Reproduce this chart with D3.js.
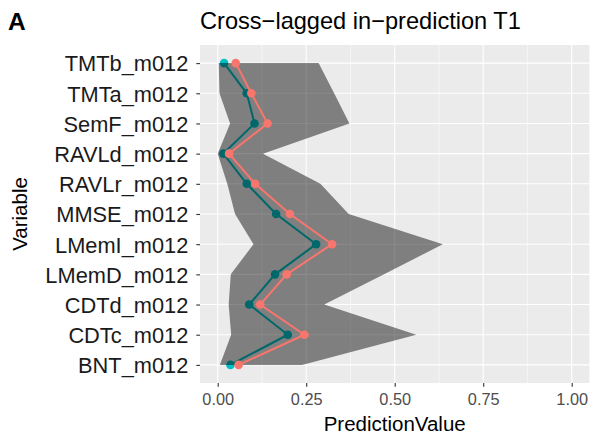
<!DOCTYPE html>
<html>
<head>
<meta charset="utf-8">
<script src="https://cdn.jsdelivr.net/npm/d3@7"></script>
<style>
  body { margin: 0; background: #fff; }
  svg { display: block; font-family: "Liberation Sans", Arial, sans-serif; }
</style>
</head>
<body>
<svg id="chart" width="590" height="435"></svg>
<script>
// values
const variables = ["TMTb_m012", "TMTa_m012", "SemF_m012", "RAVLd_m012", "RAVLr_m012",
  "MMSE_m012", "LMemI_m012", "LMemD_m012", "CDTd_m012", "CDTc_m012", "BNT_m012"];
const tealValues = [0.018, 0.082, 0.104, 0.016, 0.082, 0.165, 0.278, 0.162, 0.089, 0.198, 0.036];
const salmonValues = [0.051, 0.095, 0.141, 0.032, 0.106, 0.204, 0.323, 0.195, 0.120, 0.245, 0.059];
const bandLow = [0.003, 0.005, 0.035, 0.000, 0.027, 0.049, 0.101, 0.037, 0.031, 0.038, 0.006];
const bandHigh = [0.285, 0.329, 0.372, 0.128, 0.290, 0.370, 0.636, 0.470, 0.301, 0.561, 0.238];
const xTicks = [0, 0.25, 0.5, 0.75, 1];
const xMinor = [0.125, 0.375, 0.625, 0.875];

const panel = {left: 200, right: 589.4, top: 45, bottom: 383};
const svg = d3.select("#chart");

const x = d3.scaleLinear().domain([-0.05, 1.05]).range([panel.left, panel.right]);
const y = d3.scalePoint().domain(variables).range([panel.top, panel.bottom]).padding(0.6);

const rows = variables.map((v, i) => ({
  name: v, teal: tealValues[i], salmon: salmonValues[i], lo: bandLow[i], hi: bandHigh[i]
}));

// panel background + grid
svg.append("rect")
  .attr("x", panel.left).attr("y", panel.top)
  .attr("width", panel.right - panel.left).attr("height", panel.bottom - panel.top)
  .attr("fill", "#ebebeb");

const grid = svg.append("g").attr("stroke", "#fff");
grid.selectAll(".minor").data(xMinor).enter().append("line")
  .attr("x1", d => x(d)).attr("x2", d => x(d))
  .attr("y1", panel.top).attr("y2", panel.bottom)
  .attr("stroke-width", 0.55);
grid.selectAll(".majx").data(xTicks).enter().append("line")
  .attr("x1", d => x(d)).attr("x2", d => x(d))
  .attr("y1", panel.top).attr("y2", panel.bottom)
  .attr("stroke-width", 1.1);
grid.selectAll(".majy").data(variables).enter().append("line")
  .attr("x1", panel.left).attr("x2", panel.right)
  .attr("y1", d => y(d)).attr("y2", d => y(d))
  .attr("stroke-width", 1.1);

// teal series sits under the ribbon
const tealColor = "#00bfc4";
svg.append("path").datum(rows)
  .attr("fill", "none").attr("stroke", tealColor).attr("stroke-width", 2)
  .attr("d", d3.line().y(d => y(d.name)).x(d => x(d.teal)));
svg.append("g").selectAll("circle").data(rows).enter().append("circle")
  .attr("cx", d => x(d.teal)).attr("cy", d => y(d.name)).attr("r", 4.3)
  .attr("fill", tealColor);

// ribbon
const area = d3.area()
  .y(d => y(d.name))
  .x0(d => x(d.lo))
  .x1(d => x(d.hi));
svg.append("path").datum(rows)
  .attr("fill", "#000").attr("fill-opacity", 0.46)
  .attr("d", area);

// salmon series on top
const salmonColor = "#f8766d";
svg.append("path").datum(rows)
  .attr("fill", "none").attr("stroke", salmonColor).attr("stroke-width", 2)
  .attr("d", d3.line().y(d => y(d.name)).x(d => x(d.salmon)));
svg.append("g").selectAll("circle").data(rows).enter().append("circle")
  .attr("cx", d => x(d.salmon)).attr("cy", d => y(d.name)).attr("r", 4.3)
  .attr("fill", salmonColor);

// axes
const xAxis = svg.append("g")
  .attr("transform", `translate(0,${panel.bottom})`)
  .call(d3.axisBottom(x).tickValues(xTicks).tickFormat(d3.format(".2f")).tickSize(3.7).tickPadding(6.5));
xAxis.select(".domain").remove();
xAxis.selectAll("line").attr("stroke", "#333").attr("stroke-width", 1.1);
xAxis.selectAll("text").attr("fill", "#4d4d4d").style("font-size", "16.3px")
  .attr("font-family", null);

const yAxis = svg.append("g")
  .attr("transform", `translate(${panel.left},0)`)
  .call(d3.axisLeft(y).tickSize(3.7).tickPadding(8));
yAxis.select(".domain").remove();
yAxis.selectAll("line").attr("stroke", "#333").attr("stroke-width", 1.1);
yAxis.selectAll("text").attr("fill", "#1a1a1a").style("font-size", "21.8px")
  .attr("font-family", null).attr("dy", "0.36em");

// titles
svg.append("text")
  .attr("x", (panel.left + panel.right) / 2).attr("y", 431)
  .attr("text-anchor", "middle").style("font-size", "20.5px").attr("fill", "#000")
  .text("PredictionValue");

svg.append("text")
  .attr("transform", `translate(27,${(panel.top + panel.bottom) / 2}) rotate(-90)`)
  .attr("text-anchor", "middle").style("font-size", "20.5px").attr("fill", "#000")
  .text("Variable");

svg.append("text")
  .attr("x", panel.left).attr("y", 28.5)
  .style("font-size", "23.6px").attr("fill", "#000")
  .text("Cross\u2212lagged in\u2212prediction T1");

svg.append("text")
  .attr("x", 8).attr("y", 30)
  .style("font-size", "24.5px").style("font-weight", "bold").attr("fill", "#000")
  .text("A");
</script>
</body>
</html>
